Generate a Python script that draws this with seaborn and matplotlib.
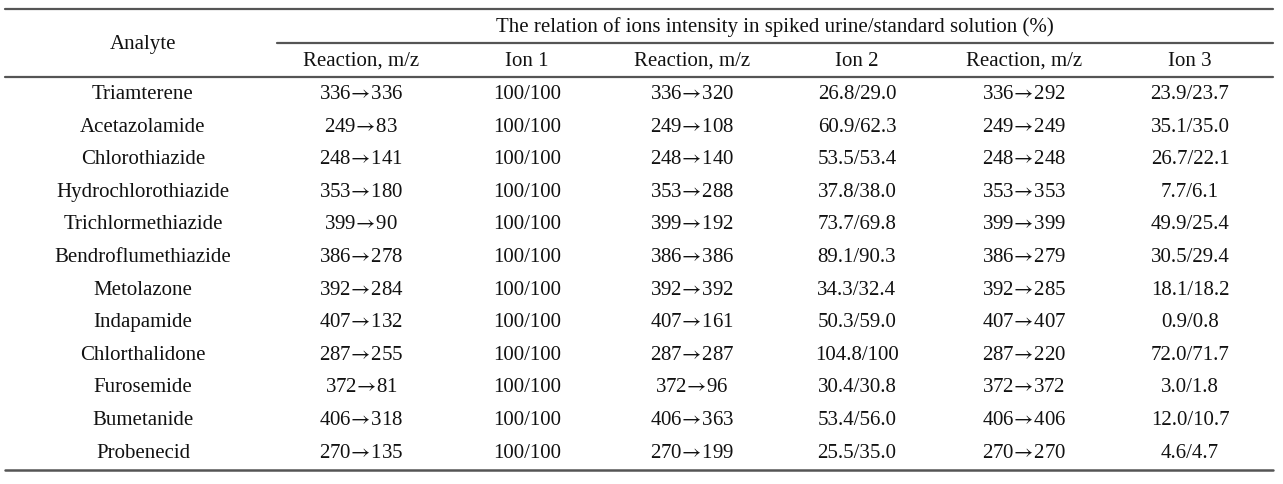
import seaborn as sns
import matplotlib.pyplot as plt

# Table content
analytes = ["Triamterene", "Acetazolamide", "Chlorothiazide", "Hydrochlorothiazide",
            "Trichlormethiazide", "Bendroflumethiazide", "Metolazone", "Indapamide",
            "Chlorthalidone", "Furosemide", "Bumetanide", "Probenecid"]
reaction1 = ["336→336", "249→83", "248→141", "353→180", "399→90", "386→278",
             "392→284", "407→132", "287→255", "372→81", "406→318", "270→135"]
ion1 = ["100/100"] * 12
reaction2 = ["336→320", "249→108", "248→140", "353→288", "399→192", "386→386",
             "392→392", "407→161", "287→287", "372→96", "406→363", "270→199"]
ion2 = ["26.8/29.0", "60.9/62.3", "53.5/53.4", "37.8/38.0", "73.7/69.8", "89.1/90.3",
        "34.3/32.4", "50.3/59.0", "104.8/100", "30.4/30.8", "53.4/56.0", "25.5/35.0"]
reaction3 = ["336→292", "249→249", "248→248", "353→353", "399→399", "386→279",
             "392→285", "407→407", "287→220", "372→372", "406→406", "270→270"]
ion3 = ["23.9/23.7", "35.1/35.0", "26.7/22.1", "7.7/6.1", "49.9/25.4", "30.5/29.4",
        "18.1/18.2", "0.9/0.8", "72.0/71.7", "3.0/1.8", "12.0/10.7", "4.6/4.7"]

sub_headers = ["Reaction, m/z", "Ion 1", "Reaction, m/z", "Ion 2", "Reaction, m/z", "Ion 3"]
group_header = "The relation of ions intensity in spiked urine/standard solution (%)"

sns.set_theme(style="white")
plt.rcParams["font.family"] = ["Liberation Serif", "DejaVu Serif"]
plt.rcParams["mathtext.fontset"] = "stix"

fig = plt.figure(figsize=(12.83, 4.84), dpi=100)
ax = fig.add_axes([0, 0, 1, 1])
ax.set_xlim(0, 1283)
ax.set_ylim(484, 0)
ax.axis("off")

col_x = [143, 361, 527, 692, 857, 1024, 1190]
row_y0, row_step = 94.5, 32.6
fs = 15
txt_color = "#111111"
line_color = "#555555"


def fmt(s):
    # wide arrow set tight against the numbers, like the original typesetting
    return s.replace("→", r"$\!\rightarrow\!$")


# rules
ax.plot([5, 1273], [9, 9], color=line_color, lw=1.6)
ax.plot([277, 1273], [43, 43], color=line_color, lw=1.6)
ax.plot([5, 1273], [77, 77], color=line_color, lw=1.6)
ax.plot([5, 1273], [470, 470], color=line_color, lw=1.8)

# headers
ax.text(col_x[0], 45, "Analyte", ha="center", va="center", fontsize=fs, color=txt_color)
ax.text(775, 27, group_header, ha="center", va="center", fontsize=fs, color=txt_color)
for x, h in zip(col_x[1:], sub_headers):
    ax.text(x, 61, h, ha="center", va="center", fontsize=fs, color=txt_color)

# body
columns = [analytes, reaction1, ion1, reaction2, ion2, reaction3, ion3]
for j, col in enumerate(columns):
    for i, val in enumerate(col):
        ax.text(col_x[j], row_y0 + i * row_step, fmt(val), ha="center", va="center",
                fontsize=fs, color=txt_color)

fig.savefig("out.png", dpi=100, facecolor="white")
plt.close(fig)
